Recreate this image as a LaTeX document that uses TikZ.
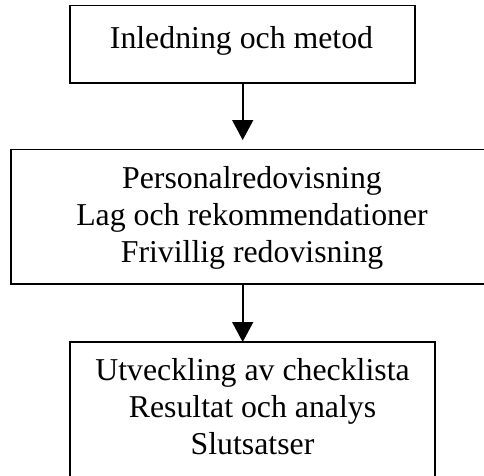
\documentclass[tikz,border=0pt]{standalone}
\usepackage{fontspec}
\setmainfont{Liberation Serif}
\usetikzlibrary{arrows.meta}
\begin{document}
\begin{tikzpicture}[x=1pt,y=-1pt,
  box/.style={draw=black,line width=1.6pt,inner sep=0pt,outer sep=0pt,rectangle},
  label/.style={anchor=north,inner sep=0pt,align=center,font=\fontsize{31.8}{37}\selectfont},
  conn/.style={line width=1.6pt,-{Triangle[width=21pt,length=20pt]}}]
\useasboundingbox (0,0) rectangle (484,475);
\clip (0,0) rectangle (484,475);
\node[box,minimum width=345pt,minimum height=77.5pt] (b1) at (242.5,44.25) {};
\node[box,minimum width=482pt,minimum height=134.5pt] (b2) at (252,216.75) {};
\node[box,minimum width=365pt,minimum height=138pt] (b3) at (252.5,411) {};
\node[label] (l1) at (241.5,26.3) {Inledning och metod};
\node[label] (l2) at (252,166.3) {Personalredovisning\\Lag och rekommendationer\\Frivillig redovisning};
\node[label] (l3) at (252.5,358.3) {Utveckling av checklista\\Resultat och analys\\Slutsatser};
\coordinate (t1) at (242.7,140);
\coordinate (t2) at (242.7,342);
\draw[conn] (b1.south -| t1) -- (t1);
\draw[conn] (b2.south -| t2) -- (t2);
\end{tikzpicture}
\end{document}
